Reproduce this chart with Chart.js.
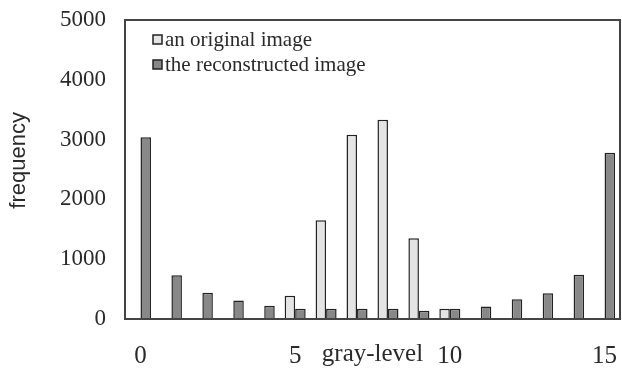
<!DOCTYPE html>
<html>
<head>
<meta charset="utf-8">
<script src="https://cdn.jsdelivr.net/npm/chart.js@4"></script>
<style>
  html, body { margin: 0; padding: 0; background: #fff; }
</style>
</head>
<body>
<canvas id="histChart" width="622" height="373"></canvas>
<script>
const grayLevels = ['0', '1', '2', '3', '4', '5', '6', '7', '8', '9', '10', '11', '12', '13', '14', '15'];
const originalFreq = [0, 0, 0, 0, 0, 390, 1650, 3080, 3330, 1350, 170, 0, 0, 0, 0, 0];
const reconFreq = [3040, 730, 440, 310, 220, 170, 170, 170, 170, 140, 170, 210, 330, 430, 740, 2780];
const yTicks = [0, 1000, 2000, 3000, 4000, 5000];

const textColor = '#2a2a2a';
const serif = 'Liberation Serif';

// box around the plot area
const frame = {
    id: 'frame',
    afterDatasetsDraw(chart) {
        const a = chart.chartArea;
        const c = chart.ctx;
        c.save();
        c.strokeStyle = '#444';
        c.lineWidth = 2;
        c.strokeRect(a.left, a.top, a.right - a.left, a.bottom - a.top);
        c.restore();
    }
};

// legend drawn inside the plot, box right next to the text
const insideLegend = {
    id: 'insideLegend',
    afterDraw(chart) {
        const a = chart.chartArea;
        const c = chart.ctx;
        c.save();
        c.font = '21px "' + serif + '"';
        c.textBaseline = 'middle';
        chart.data.datasets.forEach((ds, i) => {
            const bx = a.left + 28;
            const by = a.top + 15 + i * 25;
            c.fillStyle = ds.backgroundColor;
            c.fillRect(bx, by, 9, 9);
            c.strokeStyle = ds.borderColor;
            c.lineWidth = 1.5;
            c.strokeRect(bx, by, 9, 9);
            c.fillStyle = textColor;
            c.fillText(ds.label, bx + 12, by + 5);
        });
        c.restore();
    }
};

const ctx = document.getElementById('histChart').getContext('2d');
const histChart = new Chart(ctx, {
    type: 'bar',
    data: {
        labels: grayLevels,
        datasets: [{
            label: 'an original image',
            data: originalFreq,
            backgroundColor: '#e4e4e4',
            borderColor: '#222',
            borderWidth: 1.5,
            barPercentage: 1,
            categoryPercentage: 0.68
        }, {
            label: 'the reconstructed image',
            data: reconFreq,
            backgroundColor: '#888',
            borderColor: '#222',
            borderWidth: 1.5,
            barPercentage: 1,
            categoryPercentage: 0.68
        }]
    },
    options: {
        responsive: false,
        animation: false,
        layout: { padding: { top: 20, right: 2, bottom: 0, left: 0 } },
        plugins: {
            legend: { display: false },
            tooltip: { enabled: false }
        },
        scales: {
            x: {
                grid: { display: false, drawTicks: false },
                border: { display: false },
                ticks: {
                    autoSkip: false,
                    maxRotation: 0,
                    padding: 22,
                    color: textColor,
                    font: { family: serif, size: 25 },
                    callback: (v, i) => (i % 5 === 0 ? grayLevels[i] : '')
                },
                title: {
                    display: true,
                    text: 'gray-level',
                    color: textColor,
                    font: { family: serif, size: 25 },
                    padding: { top: 0, bottom: 4 }
                },
                afterFit(scale) {
                    scale.height = 54;
                    scale.paddingLeft = 0;
                    scale.paddingRight = 0;
                }
            },
            y: {
                min: 0,
                max: 5000,
                grid: { display: false, drawTicks: false },
                border: { display: false },
                afterBuildTicks(scale) { scale.ticks = yTicks.map(v => ({ value: v })); },
                ticks: {
                    padding: 19,
                    color: textColor,
                    font: { family: serif, size: 23 },
                    callback: v => String(v)
                },
                title: {
                    display: true,
                    text: '   frequency',
                    color: textColor,
                    font: { family: 'Liberation Sans', size: 22 },
                    padding: { top: 6, bottom: 0 }
                },
                afterFit(scale) {
                    scale.width = 125;
                    scale.paddingTop = 0;
                    scale.paddingBottom = 0;
                }
            }
        }
    },
    plugins: [frame, insideLegend]
});
</script>
</body>
</html>
